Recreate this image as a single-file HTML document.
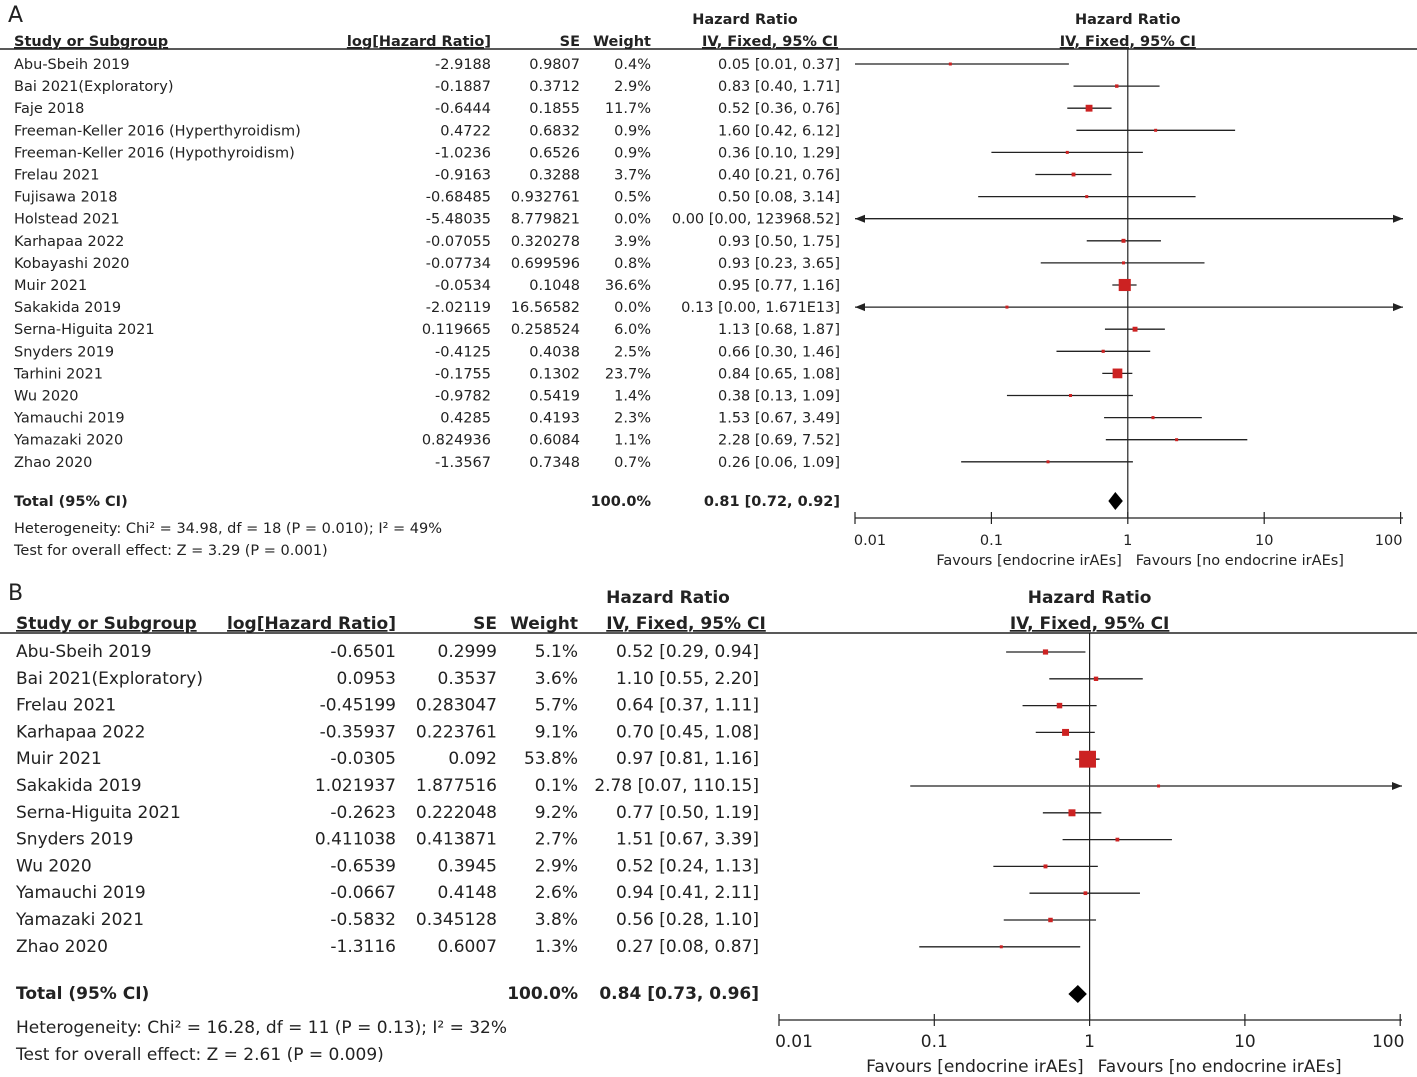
<!DOCTYPE html>
<html><head><meta charset="utf-8"><style>
body{margin:0;background:#fff;}
svg{display:block;font-family:"DejaVu Sans","Liberation Sans",sans-serif;}
</style></head><body>
<svg id="s" width="1417" height="1077" xmlns="http://www.w3.org/2000/svg"></svg>
<script>
const studiesA=["Abu-Sbeih 2019","Bai 2021(Exploratory)","Faje 2018","Freeman-Keller 2016 (Hyperthyroidism)","Freeman-Keller 2016 (Hypothyroidism)","Frelau 2021","Fujisawa 2018","Holstead 2021","Karhapaa 2022","Kobayashi 2020","Muir 2021","Sakakida 2019","Serna-Higuita 2021","Snyders 2019","Tarhini 2021","Wu 2020","Yamauchi 2019","Yamazaki 2020","Zhao 2020"];
const logA=["-2.9188","-0.1887","-0.6444","0.4722","-1.0236","-0.9163","-0.68485","-5.48035","-0.07055","-0.07734","-0.0534","-2.02119","0.119665","-0.4125","-0.1755","-0.9782","0.4285","0.824936","-1.3567"];
const seA=["0.9807","0.3712","0.1855","0.6832","0.6526","0.3288","0.932761","8.779821","0.320278","0.699596","0.1048","16.56582","0.258524","0.4038","0.1302","0.5419","0.4193","0.6084","0.7348"];
const wA=[0.4,2.9,11.7,0.9,0.9,3.7,0.5,0.0,3.9,0.8,36.6,0.0,6.0,2.5,23.7,1.4,2.3,1.1,0.7];
const hrA=[0.05,0.83,0.52,1.60,0.36,0.40,0.50,0.00,0.93,0.93,0.95,0.13,1.13,0.66,0.84,0.38,1.53,2.28,0.26];
const loA=[0.01,0.40,0.36,0.42,0.10,0.21,0.08,0.00,0.50,0.23,0.77,0.00,0.68,0.30,0.65,0.13,0.67,0.69,0.06];
const hiA=[0.37,1.71,0.76,6.12,1.29,0.76,3.14,123968.52,1.75,3.65,1.16,1.671e13,1.87,1.46,1.08,1.09,3.49,7.52,1.09];
const ciA=["0.05 [0.01, 0.37]","0.83 [0.40, 1.71]","0.52 [0.36, 0.76]","1.60 [0.42, 6.12]","0.36 [0.10, 1.29]","0.40 [0.21, 0.76]","0.50 [0.08, 3.14]","0.00 [0.00, 123968.52]","0.93 [0.50, 1.75]","0.93 [0.23, 3.65]","0.95 [0.77, 1.16]","0.13 [0.00, 1.671E13]","1.13 [0.68, 1.87]","0.66 [0.30, 1.46]","0.84 [0.65, 1.08]","0.38 [0.13, 1.09]","1.53 [0.67, 3.49]","2.28 [0.69, 7.52]","0.26 [0.06, 1.09]"];
const totalA=[0.81,0.72,0.92];
const studiesB=["Abu-Sbeih 2019","Bai 2021(Exploratory)","Frelau 2021","Karhapaa 2022","Muir 2021","Sakakida 2019","Serna-Higuita 2021","Snyders 2019","Wu 2020","Yamauchi 2019","Yamazaki 2021","Zhao 2020"];
const logB=["-0.6501","0.0953","-0.45199","-0.35937","-0.0305","1.021937","-0.2623","0.411038","-0.6539","-0.0667","-0.5832","-1.3116"];
const seB=["0.2999","0.3537","0.283047","0.223761","0.092","1.877516","0.222048","0.413871","0.3945","0.4148","0.345128","0.6007"];
const wB=[5.1,3.6,5.7,9.1,53.8,0.1,9.2,2.7,2.9,2.6,3.8,1.3];
const hrB=[0.52,1.10,0.64,0.70,0.97,2.78,0.77,1.51,0.52,0.94,0.56,0.27];
const loB=[0.29,0.55,0.37,0.45,0.81,0.07,0.50,0.67,0.24,0.41,0.28,0.08];
const hiB=[0.94,2.20,1.11,1.08,1.16,110.15,1.19,3.39,1.13,2.11,1.10,0.87];
const ciB=["0.52 [0.29, 0.94]","1.10 [0.55, 2.20]","0.64 [0.37, 1.11]","0.70 [0.45, 1.08]","0.97 [0.81, 1.16]","2.78 [0.07, 110.15]","0.77 [0.50, 1.19]","1.51 [0.67, 3.39]","0.52 [0.24, 1.13]","0.94 [0.41, 2.11]","0.56 [0.28, 1.10]","0.27 [0.08, 0.87]"];
const totalB=[0.84,0.73,0.96];
const ticks=["0.01","0.1","1","10","100"];

const S=document.getElementById('s');const NS="http://www.w3.org/2000/svg";
function el(t,a,name,txt){const e=document.createElementNS(NS,t);for(const k in a)e.setAttribute(k,a[k]);


if(txt!==undefined)e.textContent=txt;S.appendChild(e);return e;}
function txt(x,y,s,fs,anchor,name,bold,ul){const a={x:x,y:y,'font-size':fs,fill:'#222','text-anchor':anchor||'start'};if(bold)a['font-weight']='bold';if(ul)a['text-decoration']='underline';return el('text',a,name,s);}

function panel(P){
  const {label,ly,studies,logs,ses,ws,hr,lo,hi,ci,total,cols,y0,dy,fs,x0,dec,xmin,xmax,axisY,topLine,hy1,hy2,totY,hetY,testY,het,test,wf,favY,tickDy}=P;
  txt(8,ly,label,22,'start','panel-label-'+label);
  const X=v=>x0+(Math.log10(v)+2)*dec;
  txt(cols.study,hy2,"Study or Subgroup",fs,'start','header-study',true,true);
  txt(cols.log,hy2,"log[Hazard Ratio]",fs,'end','header-log-hr',true,true);
  txt(cols.se,hy2,"SE",fs,'end','header-se',true);
  txt(cols.w,hy2,"Weight",fs,'end','header-weight',true);
  txt(cols.ciC,hy1,"Hazard Ratio",fs,'middle','header-hazard-ratio',true);
  txt(cols.ciC2,hy2,"IV, Fixed, 95% CI",fs,'middle','header-iv-fixed',true,true);
  txt(X(1),hy1,"Hazard Ratio",fs,'middle','plot-header-hazard-ratio',true);
  txt(X(1),hy2,"IV, Fixed, 95% CI",fs,'middle','plot-header-iv-fixed',true,true);
  el('line',{x1:0,x2:1417,y1:topLine,y2:topLine,stroke:'#222','stroke-width':1.5},'header-rule');
  el('line',{x1:X(1),x2:X(1),y1:topLine,y2:axisY,stroke:'#222','stroke-width':1.2},'null-line');
  studies.forEach((s,i)=>{const y=y0+i*dy;
    txt(cols.study,y+5,s,fs,'start','study-name');
    txt(cols.log,y+5,logs[i],fs,'end','log-hr-value');
    txt(cols.se,y+5,ses[i],fs,'end','se-value');
    txt(cols.w,y+5,ws[i].toFixed(1)+'%',fs,'end','weight-value');
    txt(cols.ci,y+5,ci[i],fs,'end','hr-ci-value');
    let l=Math.max(X(Math.max(lo[i],1e-9)),xmin),h=Math.min(X(hi[i]),xmax);
    el('line',{x1:l,x2:h,y1:y,y2:y,stroke:'#222','stroke-width':1.3},'ci-line');
    if(X(Math.max(lo[i],1e-9))<xmin)el('polygon',{points:`${xmin},${y} ${xmin+10},${y-4} ${xmin+10},${y+4}`,fill:'#222'},'ci-arrow-left');
    if(X(hi[i])>xmax)el('polygon',{points:`${xmax},${y} ${xmax-10},${y-4} ${xmax-10},${y+4}`,fill:'#222'},'ci-arrow-right');
    const sz=Math.max(3,wf*Math.sqrt(ws[i]));
    if(hr[i]>0)el('rect',{x:X(hr[i])-sz/2,y:y-sz/2,width:sz,height:sz,fill:'#cc2222'},'effect-square');
  });
  txt(cols.study,totY+5,"Total (95% CI)",fs,'start','total-label',true);
  txt(cols.w,totY+5,"100.0%",fs,'end','total-weight',true);
  txt(cols.ci,totY+5,total[0].toFixed(2)+" ["+total[1].toFixed(2)+", "+total[2].toFixed(2)+"]",fs,'end','total-ci',true);
  el('polygon',{points:`${X(total[1])},${totY} ${X(total[0])},${totY-9} ${X(total[2])},${totY} ${X(total[0])},${totY+9}`,fill:'#000'},'total-diamond');
  txt(cols.study,hetY,het,fs,'start','heterogeneity-text');
  txt(cols.study,testY,test,fs,'start','overall-effect-text');
  el('line',{x1:xmin,x2:xmax,y1:axisY,y2:axisY,stroke:'#222','stroke-width':1.3},'x-axis');
  ticks.forEach((t,i)=>{const x=x0+i*dec;
    el('line',{x1:x,x2:x,y1:axisY-6,y2:axisY+6,stroke:'#222','stroke-width':1.2},'x-tick');
    txt(x+(i==0?15:i==4?-12:0),axisY+tickDy,t,fs,'middle','x-tick-label');});
  txt(X(1)-6,favY,"Favours [endocrine irAEs]",fs,'end','favours-left');
  txt(X(1)+8,favY,"Favours [no endocrine irAEs]",fs,'start','favours-right');
}
panel({label:'A',ly:22,studies:studiesA,logs:logA,ses:seA,ws:wA,hr:hrA,lo:loA,hi:hiA,ci:ciA,total:totalA,
 cols:{study:14,log:491,se:580,w:651,ci:840,ciC:745,ciC2:770},y0:64,dy:22.1,fs:14.5,x0:855,dec:136.4,xmin:855,xmax:1403,
 axisY:518,topLine:49,hy1:24,hy2:46,totY:501,hetY:533,testY:555,wf:2,favY:565,tickDy:27,
 het:"Heterogeneity: Chi² = 34.98, df = 18 (P = 0.010); I² = 49%",test:"Test for overall effect: Z = 3.29 (P = 0.001)"});
panel({label:'B',ly:600,studies:studiesB,logs:logB,ses:seB,ws:wB,hr:hrB,lo:loB,hi:hiB,ci:ciB,total:totalB,
 cols:{study:16,log:396,se:497,w:578,ci:759,ciC:668,ciC2:686},y0:652,dy:26.8,fs:17,x0:779,dec:155.3,xmin:779,xmax:1402,
 axisY:1020,topLine:633,hy1:603,hy2:629,totY:994,hetY:1033,testY:1060,wf:2.3,favY:1072,tickDy:27,
 het:"Heterogeneity: Chi² = 16.28, df = 11 (P = 0.13); I² = 32%",test:"Test for overall effect: Z = 2.61 (P = 0.009)"});
</script>
</body></html>
